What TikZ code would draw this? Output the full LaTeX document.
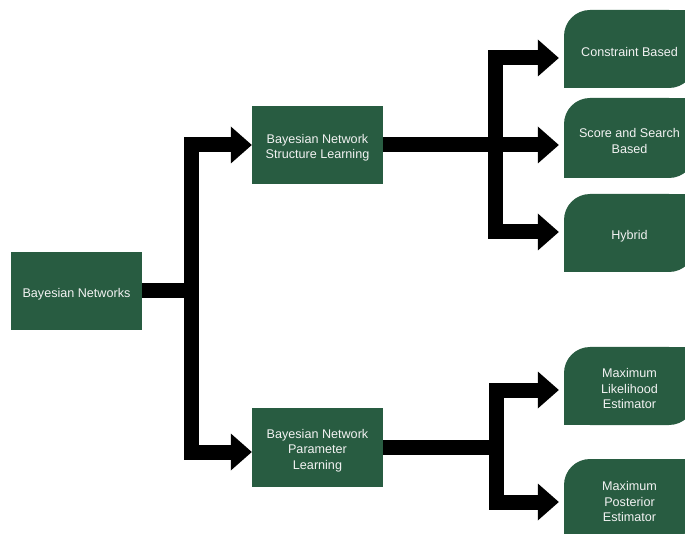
\documentclass[tikz,border=0pt]{standalone}
\usepackage{fontspec}
\setmainfont{Liberation Sans}
\usetikzlibrary{arrows.meta}
\definecolor{boxgreen}{HTML}{285C41}
\definecolor{boxtext}{HTML}{F2F2F2}
% tall strut on the first line sets the text a little lower in its box
\newcommand\firstline{\rule{0pt}{15pt}}
\begin{document}
\begin{tikzpicture}[x=1pt,y=-1pt,
  label text/.style={text=boxtext, align=center,
    font=\fontsize{12.6pt}{15.5pt}\selectfont},
  topicbox/.style={label text, fill=boxgreen, minimum width=131pt,
    minimum height=78pt, inner sep=0pt},
  leafbox/.style={label text, minimum width=131pt, minimum height=78pt,
    inner sep=0pt,
    path picture={
      \fill[boxgreen, rounded corners=26pt]
        (path picture bounding box.south west) rectangle
        (path picture bounding box.north east);
      \fill[boxgreen] (path picture bounding box.south west)
        rectangle ++(30pt,30pt);
      \fill[boxgreen] (path picture bounding box.north east)
        rectangle ++(-30pt,-30pt);
    }},
  conn/.style={line width=15pt, line join=miter, draw=black,
    -{Triangle[length=21pt,width=37pt,line width=0pt]}},
  link/.style={line width=15pt, line join=miter, draw=black},
]
\useasboundingbox (0,0) rectangle (685,534);
\clip (0,0) rectangle (685,534);

% main topics
\node[topicbox] (bn) at (76.5,291) {\firstline Bayesian Networks};
\node[topicbox] (bsl) at (317.5,145)
  {\firstline Bayesian Network\\Structure Learning};
\node[topicbox, minimum height=79pt] (bpl) at (317.5,447.5)
  {\firstline Bayesian Network\\Parameter\\Learning};

% leaf methods
\node[leafbox] (cb) at (629.5,49) {\firstline Constraint Based};
\node[leafbox, minimum height=80pt] (ss) at (629.5,138)
  {\firstline Score and Search\\Based};
\node[leafbox] (hy) at (629.5,233) {\firstline Hybrid};
\node[leafbox] (mle) at (629.5,386)
  {\firstline Maximum\\Likelihood\\Estimator};
\node[leafbox, minimum height=80pt] (mpe) at (629.5,499)
  {\firstline Maximum\\Posterior\\Estimator};

% junction points of the thick connectors
\coordinate (j1) at (191.5,291);
\coordinate (j2) at (495,145);
\coordinate (j3) at (496,447.5);

% left branch
\draw[link] (bn.east) -- (j1);
\draw[conn] (j1) |- (bsl.west);
\draw[conn] (j1) |- ([yshift=-4.5pt]bpl.west);

% structure learning branch
\draw[conn, shorten >=5pt] (bsl.east) -- (ss.west |- bsl.east);
\draw[conn, shorten >=5pt] (j2) |- ([yshift=-9pt]cb.west);
\draw[conn, shorten >=5pt] (j2) |- ([yshift=1pt]hy.west);

% parameter learning branch
\draw[link] (bpl.east) -- (j3);
\draw[conn, shorten >=5pt] (j3) |- ([yshift=-4pt]mle.west);
\draw[conn, shorten >=5pt] (j3) |- ([yshift=-3pt]mpe.west);
\end{tikzpicture}
\end{document}
